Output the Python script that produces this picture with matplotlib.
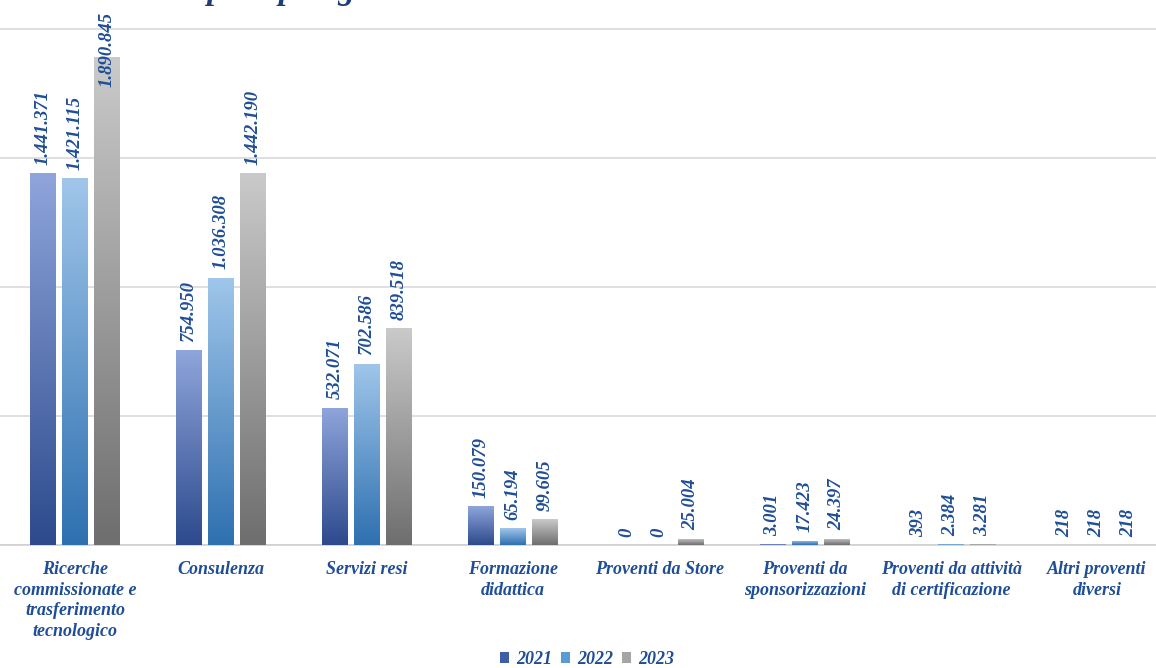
import matplotlib
matplotlib.use("Agg")
import matplotlib.pyplot as plt
import numpy as np
from matplotlib.colors import LinearSegmentedColormap
from matplotlib.patches import Patch

categories = ["Ricerche\ncommissionate e\ntrasferimento\ntecnologico", "Consulenza", "Servizi resi",
              "Formazione\ndidattica", "Proventi da Store", "Proventi da\nsponsorizzazioni",
              "Proventi da attività\ndi certificazione", "Altri proventi\ndiversi"]
years = ["2021", "2022", "2023"]
v2021 = [1441371, 754950, 532071, 150079, 0, 3001, 393, 218]
v2022 = [1421115, 1036308, 702586, 65194, 0, 17423, 2384, 218]
v2023 = [1890845, 1442190, 839518, 99605, 25004, 24397, 3281, 218]
series = [v2021, v2022, v2023]
title = "Proventi per tipologia"

grads = [("#2C4A8C", "#8FA5DB"), ("#2E70B0", "#A0C6EA"), ("#6E6E6E", "#CACACA")]
solid = ["#3E5FA8", "#5B9BD5", "#A5A5A5"]
txt_col = "#1F4E96"
serif = ["Liberation Serif", "DejaVu Serif"]

fig = plt.figure(figsize=(11.56, 6.68), dpi=100)
ax = fig.add_axes([0, 0.184, 1, 0.816])
x = np.arange(len(categories))
w = 0.178
step = 0.219
ymax = 2112400
ax.set_xlim(-0.514, 7.404)
ax.set_ylim(0, ymax)

for k, vals in enumerate(series):
    cmap = LinearSegmentedColormap.from_list("g%d" % k, [grads[k][0], grads[k][1]])
    bars = ax.bar(x + (k - 1) * step, vals, width=w, color=solid[k], zorder=3, linewidth=0)
    for b, v in zip(bars, vals):
        if v > 0:
            x0 = b.get_x()
            im = ax.imshow(np.linspace(0, 1, 256).reshape(-1, 1), cmap=cmap, origin="lower",
                           extent=[x0, x0 + b.get_width(), 0, v], aspect="auto", zorder=3.5)
            im.set_clip_path(b)
        lbl = f"{v:,}".replace(",", ".")
        xc = b.get_x() + b.get_width() / 2
        style = dict(rotation=90, ha="center", fontsize=13.5, fontweight="bold",
                     fontstyle="italic", family=serif, color=txt_col, zorder=5)
        if v > 0.85 * ymax:
            ax.annotate(lbl, (xc, ymax), xytext=(0, -8.5), textcoords="offset points",
                        va="top", **style)
        else:
            ax.annotate(lbl, (xc, v), xytext=(0, 6), textcoords="offset points",
                        va="bottom", **style)

ax.set_ylim(0, ymax)
ax.set_xlim(-0.514, 7.404)
ax.set_yticks(np.arange(0, 2000001, 500000))
ax.grid(axis="y", color="#D9D9D9", linewidth=1.2, zorder=0)
ax.tick_params(axis="y", left=False, labelleft=False)
ax.tick_params(axis="x", bottom=False, pad=8)
ax.set_xticks(x)
ax.set_xticklabels(categories, fontsize=13, fontweight="bold", fontstyle="italic",
                   family=serif, color=txt_col, linespacing=1.28, va="top")
for s in ["top", "right", "left"]:
    ax.spines[s].set_visible(False)
ax.spines["bottom"].set_color("#D0D0D0")
ax.spines["bottom"].set_linewidth(1.2)

handles = [Patch(facecolor=solid[k], label=years[k]) for k in range(3)]
fig.legend(handles=handles, loc="lower center", bbox_to_anchor=(0.508, -0.024), ncol=3, frameon=False,
           prop={"family": serif, "weight": "bold", "style": "italic", "size": 13},
           labelcolor=txt_col, handlelength=0.5, handleheight=0.5, handletextpad=0.4,
           columnspacing=0.5)

fig.text(0.2, 1.0 + 1.5 / 668, title, ha="center", va="baseline", fontsize=24, fontweight="bold",
         fontstyle="italic", family=serif, color="#1F3D7A")

fig.savefig("out.png", dpi=100)
